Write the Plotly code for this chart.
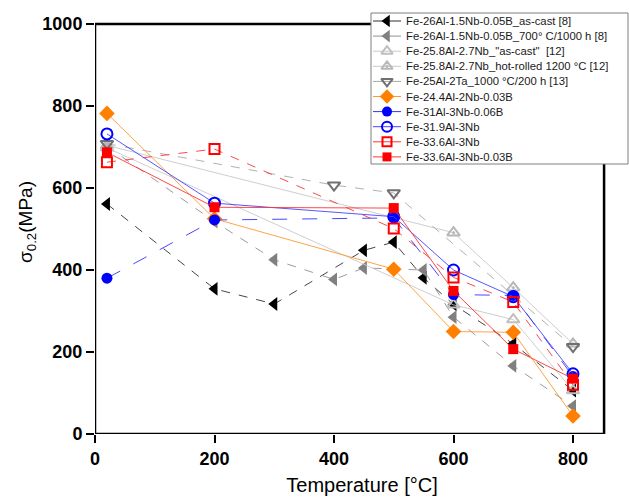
import plotly.graph_objects as go

# ---------------- data ----------------
names = [
    "Fe-26Al-1.5Nb-0.05B_as-cast [8]",
    "Fe-26Al-1.5Nb-0.05B_700° C/1000 h [8]",
    "Fe-25.8Al-2.7Nb_\"as-cast\"  [12]",
    "Fe-25.8Al-2.7Nb_hot-rolled 1200 °C [12]",
    "Fe-25Al-2Ta_1000 °C/200 h [13]",
    "Fe-24.4Al-2Nb-0.03B",
    "Fe-31Al-3Nb-0.06B",
    "Fe-31.9Al-3Nb",
    "Fe-33.6Al-3Nb",
    "Fe-33.6Al-3Nb-0.03B",
]

t_ascast8 = [20, 200, 300, 450, 500, 550, 600, 700, 800]
v_ascast8 = [561, 354, 317, 448, 468, 381, 316, 220, 106]

t_700h8 = [20, 200, 300, 400, 450, 550, 600, 700, 800]
v_700h8 = [702, 518, 425, 377, 405, 400, 285, 166, 68]

t_ascast12 = [20, 600, 700, 800]
v_ascast12 = [698, 315, 279, 106]

t_hot12 = [20, 600, 700, 800]
v_hot12 = [704, 491, 357, 220]

t_ta13 = [20, 400, 500, 800]
v_ta13 = [708, 607, 588, 213]

t_nb2 = [20, 200, 500, 600, 700, 800]
v_nb2 = [782, 525, 402, 250, 248, 44]

t_al31 = [20, 200, 500, 600, 700, 800]
v_al31 = [380, 522, 527, 340, 338, 140]

t_al319 = [20, 200, 500, 600, 700, 800]
v_al319 = [732, 563, 530, 400, 335, 147]

t_al336 = [20, 200, 500, 600, 700, 800]
v_al336 = [663, 695, 501, 382, 322, 120]

t_al336b = [20, 200, 500, 600, 700, 800]
v_al336b = [687, 553, 551, 349, 207, 135]

x_ticks = [0, 200, 400, 600, 800]
y_ticks = [0, 200, 400, 600, 800, 1000]

# ---------------- styles ----------------
styles = [
    dict(color="#000000", symbol="triangle-left", size=12, lcolor="#303030", dash="dash", lw=0.9, mline="#000000", mlw=0),
    dict(color="#808080", symbol="triangle-left", size=12, lcolor="#909090", dash="dash", lw=0.9, mline="#808080", mlw=0),
    dict(color="#C0C0C0", symbol="triangle-up-open", size=11, lcolor="#C8C8C8", dash="solid", lw=0.9, mline="#C0C0C0", mlw=2),
    dict(color="#B8B8B8", symbol="triangle-up-open-dot", size=11, lcolor="#C8C8C8", dash="solid", lw=0.9, mline="#B8B8B8", mlw=2),
    dict(color="#707070", symbol="triangle-down-open", size=11, lcolor="#A8A8A8", dash="dash", lw=0.9, mline="#707070", mlw=2),
    dict(color="#FF8000", symbol="diamond", size=12, lcolor="#FF9933", dash="solid", lw=0.9, mline="#FF8000", mlw=0),
    dict(color="#0000FF", symbol="circle", size=11, lcolor="#3333FF", dash="longdash", lw=0.9, mline="#0000FF", mlw=0),
    dict(color="#0000FF", symbol="circle-open", size=11, lcolor="#4444FF", dash="solid", lw=0.9, mline="#0000FF", mlw=2),
    dict(color="#FF0000", symbol="square-open", size=10, lcolor="#FF3333", dash="dash", lw=0.9, mline="#FF0000", mlw=2),
    dict(color="#FF0000", symbol="square", size=10, lcolor="#FF3333", dash="solid", lw=0.9, mline="#FF0000", mlw=0),
]

series = [
    (t_ascast8, v_ascast8), (t_700h8, v_700h8), (t_ascast12, v_ascast12),
    (t_hot12, v_hot12), (t_ta13, v_ta13), (t_nb2, v_nb2), (t_al31, v_al31),
    (t_al319, v_al319), (t_al336, v_al336), (t_al336b, v_al336b),
]

fig = go.Figure()
for name, (tx, vy), st in zip(names, series, styles):
    fig.add_trace(go.Scatter(
        x=tx, y=vy, name=name, mode="lines+markers", showlegend=False,
        line=dict(color=st["lcolor"], width=st["lw"], dash=st["dash"]),
        marker=dict(symbol=st["symbol"], size=st["size"], color=st["color"],
                    line=dict(color=st["mline"], width=st["mlw"])),
    ))

# ---------------- custom legend (pixel overlay axes) ----------------
W, H = 629, 501
ML, MR, MT, MB = 95, 0, 10, 67
leg_x0, leg_x1, leg_y0, leg_y1 = 371, 628, 13, 164
row0, row_step = 21, 15.1
for i, (name, st) in enumerate(zip(names, styles)):
    yc = row0 + i * row_step
    fig.add_trace(go.Scatter(
        x=[373, 387, 401], y=[yc, yc, yc], mode="lines", xaxis="x2", yaxis="y2",
        showlegend=False, hoverinfo="skip",
        line=dict(color=st["lcolor"], width=1),
    ))
    fig.add_trace(go.Scatter(
        x=[387], y=[yc], mode="markers", xaxis="x2", yaxis="y2",
        showlegend=False, hoverinfo="skip", cliponaxis=False,
        marker=dict(symbol=st["symbol"], size=st["size"] - 1, color=st["color"],
                    line=dict(color=st["mline"], width=st["mlw"])),
    ))
    fig.add_annotation(
        x=404, y=yc, xref="x2", yref="y2", text=name, showarrow=False,
        xanchor="left", yanchor="middle",
        font=dict(family="Liberation Sans, Arial", size=11.3, color="#1a1a1a"),
    )

fig.update_layout(
    width=W, height=H,
    margin=dict(l=ML, r=MR, t=MT, b=MB),
    paper_bgcolor="white", plot_bgcolor="white",
    font=dict(family="Liberation Sans, Arial", color="#000000"),
    xaxis=dict(
        range=[0, (W - MR - ML) / 0.5975], tickvals=x_ticks, ticks="outside",
        ticklen=8, tickwidth=2, tickcolor="black", showline=False,
        showgrid=False, zeroline=False,
        tickfont=dict(size=18, weight="bold", color="#000"),
        title=dict(text="Temperature [°C]", font=dict(size=20, color="#000"), standoff=10),
    ),
    yaxis=dict(
        range=[0, (H - MB - MT) / 0.41], tickvals=y_ticks, ticks="outside",
        ticklen=8, tickwidth=2, tickcolor="black", showline=False,
        showgrid=False, zeroline=False,
        tickfont=dict(size=18, weight="bold", color="#000"),
        title=dict(text="σ<sub>0.2</sub>(MPa)", font=dict(size=19, color="#000"), standoff=4),
    ),
    xaxis2=dict(overlaying="x", range=[ML, W - MR], visible=False),
    yaxis2=dict(overlaying="y", range=[H - MB, MT], visible=False),
    shapes=[
        dict(type="rect", xref="x", yref="y", x0=0, x1=852, y0=0, y1=1000,
             line=dict(color="black", width=2.5), layer="below"),
        dict(type="rect", xref="x2", yref="y2", x0=leg_x0, x1=leg_x1, y0=leg_y0, y1=leg_y1,
             line=dict(color="#7f7f7f", width=1), fillcolor="white", layer="below"),
    ],
)

fig.write_html("out.html")
